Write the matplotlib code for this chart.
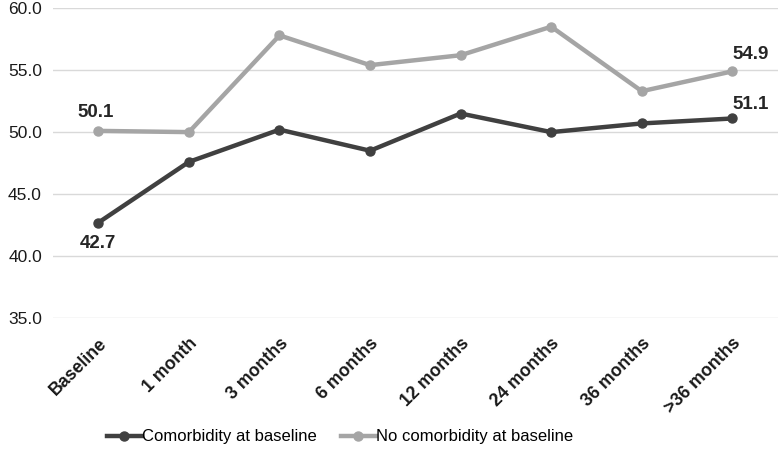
import matplotlib
matplotlib.use("Agg")
import matplotlib.pyplot as plt

categories = ["Baseline", "1 month", "3 months", "6 months", "12 months",
              "24 months", "36 months", ">36 months"]
comorbidity = [42.7, 47.6, 50.2, 48.5, 51.5, 50.0, 50.7, 51.1]
no_comorbidity = [50.1, 50.0, 57.8, 55.4, 56.2, 58.5, 53.3, 54.9]
yticks = [35, 40, 45, 50, 55, 60]

plt.rcParams['font.family'] = ['Liberation Sans', 'DejaVu Sans']

fig = plt.figure(figsize=(7.8, 4.5), dpi=100)
ax = fig.add_axes([0.068, 0.293, 0.929, 0.689])

x = list(range(len(categories)))
dark = '#404040'
light = '#a5a5a5'
ax.plot(x, comorbidity, color=dark, lw=3.2, marker='o', ms=6.5,
        label='Comorbidity at baseline', zorder=3)
ax.plot(x, no_comorbidity, color=light, lw=3.2, marker='o', ms=6.5,
        label='No comorbidity at baseline', zorder=3)

ax.set_xlim(-0.5, len(categories) - 0.5)
ax.set_ylim(35, 60)
ax.set_yticks(yticks)
ax.set_yticklabels([f"{v:.1f}" for v in yticks], fontsize=12.5, color='#1a1a1a')
ax.set_xticks(x)
ax.set_xticklabels(categories, rotation=45, ha='right', rotation_mode='anchor',
                   fontsize=12.8, fontweight='bold', color='#1a1a1a')
ax.tick_params(axis='both', length=0)
ax.tick_params(axis='y', pad=8)
ax.tick_params(axis='x', pad=12)
for s in ax.spines.values():
    s.set_visible(False)
ax.grid(axis='y', color='#d9d9d9', lw=1)
ax.set_axisbelow(True)

lab = dict(fontsize=13.5, fontweight='bold', color='#262626', ha='center', va='center')
ax.annotate(f"{no_comorbidity[0]:.1f}", (0, no_comorbidity[0]), xytext=(-2, 13),
            textcoords='offset points', **lab)
ax.annotate(f"{comorbidity[0]:.1f}", (0, comorbidity[0]), xytext=(0, -15),
            textcoords='offset points', **lab)
ax.annotate(f"{no_comorbidity[-1]:.1f}", (7, no_comorbidity[-1]), xytext=(13, 12),
            textcoords='offset points', **lab)
ax.annotate(f"{comorbidity[-1]:.1f}", (7, comorbidity[-1]), xytext=(13, 10),
            textcoords='offset points', **lab)

fig.legend(loc='center', bbox_to_anchor=(0.436, 0.029), ncol=2, frameon=False,
           fontsize=12, handlelength=2.1, handletextpad=0.05, columnspacing=1.4)

fig.savefig("out.png", dpi=100)
